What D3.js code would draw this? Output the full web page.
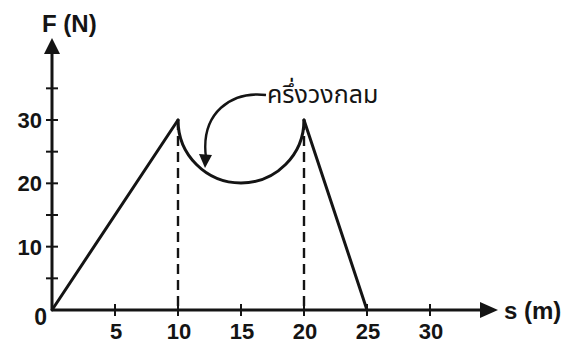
<!DOCTYPE html>
<html><head><meta charset="utf-8">
<script src="https://cdn.jsdelivr.net/npm/d3@7"></script>
<style>
html,body{margin:0;padding:0;background:#fff;}
svg{display:block;}
</style></head>
<body>
<script>
// ---- data ----
const xTicks = [5, 10, 15, 20, 25, 30];
const xTickLabels = ["5", "10", "15", "20", "25", "30"];
const yTicks = [5, 10, 15, 20, 25, 30, 35];
const yTickLabels = ["", "10", "", "20", "", "30", ""];
const rampUp = [[0, 0], [10, 30]];
const rampDown = [[20, 30], [25, 0]];
const semicircleEnds = [[10, 30], [20, 30]]; // semicircle between these points, dipping to F=20 at s=15
const dashedAt = [10, 20];
const annotation = "ครึ่งวงกลม";
const xLabel = "s (m)";
const yLabel = "F (N)";

const W = 568, H = 345;
const svg = d3.select("body").append("svg").attr("width", W).attr("height", H);

const x = d3.scaleLinear().domain([0, 10]).range([52, 178]);
const y = d3.scaleLinear().domain([0, 30]).range([310, 120]);

const ink = "#141414";
const fontB = "'Liberation Sans', Arial, Helvetica, sans-serif";

// dashed verticals
svg.selectAll("line.dash").data(dashedAt).enter().append("line")
  .attr("x1", d => x(d)).attr("x2", d => x(d))
  .attr("y1", y(30)).attr("y2", y(0))
  .attr("stroke", ink).attr("stroke-width", 2.4)
  .attr("stroke-dasharray", "10,6");

// axes
const x0 = x(0), y0 = y(0);
const xEnd = 498, yEnd = 38;
svg.append("line").attr("x1", x0).attr("y1", y0).attr("x2", xEnd - 12).attr("y2", y0)
  .attr("stroke", ink).attr("stroke-width", 3);
svg.append("line").attr("x1", x0).attr("y1", y0).attr("x2", x0).attr("y2", yEnd + 12)
  .attr("stroke", ink).attr("stroke-width", 3);
svg.append("path").attr("d", `M${xEnd},${y0} L${xEnd - 18},${y0 - 8} L${xEnd - 18},${y0 + 8} Z`).attr("fill", ink);
svg.append("path").attr("d", `M${x0},${yEnd} L${x0 - 8},${yEnd + 16} L${x0 + 8},${yEnd + 16} Z`).attr("fill", ink);

// ticks
svg.selectAll("line.xt").data(xTicks).enter().append("line")
  .attr("x1", d => x(d)).attr("x2", d => x(d))
  .attr("y1", y0 - 6).attr("y2", y0 + 6)
  .attr("stroke", ink).attr("stroke-width", 2);
svg.selectAll("line.yt").data(yTicks).enter().append("line")
  .attr("y1", d => y(d)).attr("y2", d => y(d))
  .attr("x1", x0 - 6).attr("x2", x0 + 6)
  .attr("stroke", ink).attr("stroke-width", 2);

// tick labels
svg.selectAll("text.xl").data(xTicks).enter().append("text")
  .attr("x", d => x(d) + 1).attr("y", y0 + 29)
  .attr("text-anchor", "middle")
  .attr("font-family", fontB).attr("font-weight", "bold").attr("font-size", 22)
  .attr("fill", ink)
  .text((d, i) => xTickLabels[i]);
svg.selectAll("text.yl").data(yTicks).enter().append("text")
  .attr("x", x0 - 10).attr("y", d => y(d) + 8)
  .attr("text-anchor", "end")
  .attr("font-family", fontB).attr("font-weight", "bold").attr("font-size", 22)
  .attr("fill", ink)
  .text((d, i) => yTickLabels[i]);
svg.append("text").attr("x", x0 - 5).attr("y", y0 + 15)
  .attr("text-anchor", "end")
  .attr("font-family", fontB).attr("font-weight", "bold").attr("font-size", 23)
  .attr("fill", ink).text("0");

// axis titles
svg.append("text").attr("x", 42).attr("y", 32)
  .attr("font-family", fontB).attr("font-weight", "bold").attr("font-size", 24)
  .attr("fill", ink).text(yLabel);
svg.append("text").attr("x", 504).attr("y", y0 + 9)
  .attr("font-family", fontB).attr("font-weight", "bold").attr("font-size", 24)
  .attr("fill", ink).text(xLabel);

// force curve
const line = d3.line().x(d => x(d[0])).y(d => y(d[1]));
svg.append("path").attr("d", line(rampUp)).attr("fill", "none")
  .attr("stroke", ink).attr("stroke-width", 3).attr("stroke-linecap", "round");
svg.append("path").attr("d", line(rampDown)).attr("fill", "none")
  .attr("stroke", ink).attr("stroke-width", 3).attr("stroke-linecap", "round");

const cx = (x(semicircleEnds[0][0]) + x(semicircleEnds[1][0])) / 2;
const cy = y(semicircleEnds[0][1]);
const r = (x(semicircleEnds[1][0]) - x(semicircleEnds[0][0])) / 2;
const arcPath = d3.path();
arcPath.moveTo(cx - r, cy);
arcPath.arc(cx, cy, r, Math.PI, 0, true);
svg.append("path").attr("d", arcPath.toString()).attr("fill", "none")
  .attr("stroke", ink).attr("stroke-width", 3).attr("stroke-linecap", "round");

// annotation
svg.append("text").attr("x", 267).attr("y", 103)
  .attr("font-family", "'Noto Sans Thai', 'Noto Sans', 'DejaVu Sans', sans-serif")
  .attr("font-size", 25).attr("fill", ink).text(annotation);
svg.append("path").attr("d", "M266,95 C232,91 200,112 206,158")
  .attr("fill", "none").attr("stroke", ink).attr("stroke-width", 2.4);
svg.append("path").attr("d", "M205,168 L199,154 L212,155 Z").attr("fill", ink);
</script>
</body></html>
